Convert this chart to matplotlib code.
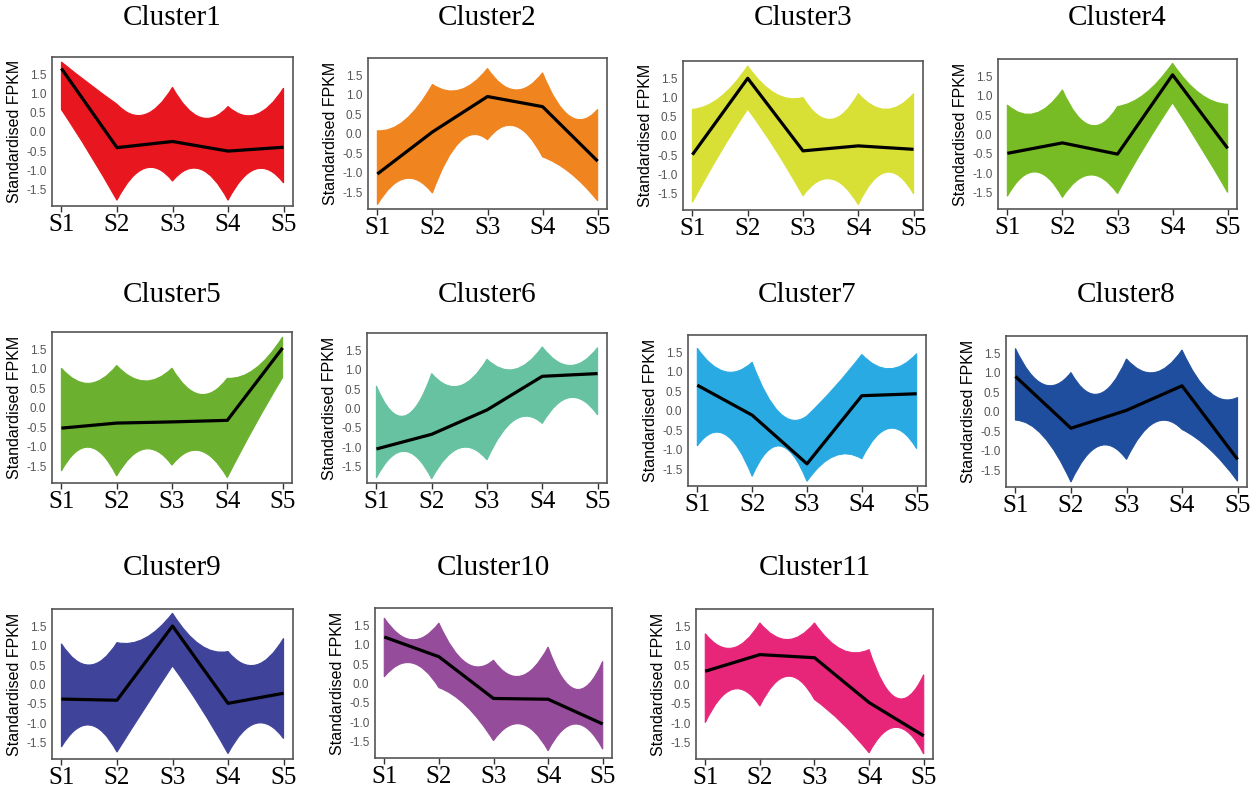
import matplotlib
matplotlib.use('Agg')
import matplotlib.pyplot as plt
import numpy as np
from matplotlib.path import Path
from matplotlib.patches import PathPatch

# cluster names and colours
names = ['Cluster1', 'Cluster2', 'Cluster3', 'Cluster4', 'Cluster5', 'Cluster6',
         'Cluster7', 'Cluster8', 'Cluster9', 'Cluster10', 'Cluster11']
colors = ['#e8161e', '#f0841f', '#d8df35', '#77bc24', '#6bb12f', '#66c2a0',
          '#2aaae2', '#1f4e9e', '#3f449a', '#954c9a', '#e7267a']
stages = ['S1', 'S2', 'S3', 'S4', 'S5']

# mean profile of each cluster at S1..S5
mean1 = [1.65, -0.41, -0.25, -0.50, -0.40]
mean2 = [-1.03, 0.05, 0.96, 0.70, -0.70]
mean3 = [-0.49, 1.50, -0.39, -0.26, -0.35]
mean4 = [-0.49, -0.22, -0.51, 1.54, -0.36]
mean5 = [-0.52, -0.39, -0.36, -0.32, 1.54]
mean6 = [-1.05, -0.67, -0.04, 0.83, 0.90]
mean7 = [0.66, -0.11, -1.36, 0.39, 0.44]
mean8 = [0.91, -0.42, 0.04, 0.67, -1.22]
mean9 = [-0.38, -0.41, 1.51, -0.49, -0.23]
mean10 = [1.20, 0.69, -0.39, -0.41, -1.05]
mean11 = [0.34, 0.77, 0.69, -0.47, -1.33]

# upper / lower envelope of the member genes, read at S1, mid, S2, mid, ... S5
upper1 = [1.82, 1.25, 0.72, 0.45, 1.16, 0.38, 0.66, 0.45, 1.14]
lower1 = [0.58, -0.55, -1.78, -0.95, -1.28, -0.97, -1.78, -0.97, -1.33]
upper2 = [0.08, 0.35, 1.27, 1.13, 1.68, 1.13, 1.57, 0.45, 0.63]
lower2 = [-1.82, -1.15, -1.52, -0.20, -0.15, 0.20, -0.59, -1.00, -1.72]
upper3 = [0.69, 1.00, 1.82, 1.10, 1.00, 0.43, 1.10, 0.69, 1.10]
lower3 = [-1.73, -0.45, 0.70, -0.35, -1.56, -1.12, -1.79, -0.95, -1.51]
upper4 = [0.76, 0.54, 1.15, 0.24, 0.72, 1.05, 1.84, 1.05, 0.78]
lower4 = [-1.60, -0.97, -1.63, -1.05, -1.53, -0.30, 0.82, -0.30, -1.50]
upper5 = [1.02, 0.63, 1.09, 0.69, 1.02, 0.35, 0.76, 1.00, 1.82]
lower5 = [-1.62, -1.01, -1.75, -1.06, -1.47, -1.10, -1.79, -0.45, 0.78]
upper6 = [0.58, -0.20, 0.90, 0.58, 1.27, 1.01, 1.59, 1.11, 1.57]
lower6 = [-1.80, -1.11, -1.82, -1.03, -1.33, -0.30, -0.39, 0.28, -0.17]
upper7 = [1.61, 1.01, 1.25, -0.05, -0.13, 0.60, 1.45, 1.08, 1.47]
lower7 = [-0.90, -0.60, -1.68, -0.90, -1.81, -1.16, -1.23, -0.45, -0.97]
upper8 = [1.63, 0.71, 1.01, 0.46, 1.36, 1.01, 1.59, 0.50, 0.37]
lower8 = [-0.21, -0.62, -1.80, -0.88, -1.22, -0.28, -0.45, -0.96, -1.78]
upper9 = [1.05, 0.50, 1.08, 1.19, 1.84, 1.02, 0.85, 0.50, 1.19]
lower9 = [-1.62, -1.05, -1.75, -0.62, 0.48, -0.58, -1.79, -1.01, -1.40]
upper10 = [1.69, 1.13, 1.56, 0.53, 0.60, 0.19, 0.94, -0.15, 0.57]
lower10 = [0.17, 0.53, -0.11, -0.58, -1.48, -1.05, -1.74, -1.05, -1.70]
upper11 = [1.31, 0.94, 1.59, 1.16, 1.59, 0.90, 0.90, -0.35, 0.25]
lower11 = [-0.99, -0.13, -0.56, 0.21, -0.39, -0.99, -1.77, -1.11, -1.80]

means = [mean1, mean2, mean3, mean4, mean5, mean6, mean7, mean8, mean9, mean10, mean11]
uppers = [upper1, upper2, upper3, upper4, upper5, upper6, upper7, upper8, upper9, upper10, upper11]
lowers = [lower1, lower2, lower3, lower4, lower5, lower6, lower7, lower8, lower9, lower10, lower11]

# axes boxes in pixels: left, right, top, bottom
W, H = 1258, 793
boxes = [(52, 293, 57, 206), (368, 607, 58, 209), (683, 923, 61, 210), (998, 1237, 59, 209),
         (52, 292, 332, 483), (367, 607, 333, 483), (688, 926, 335, 486), (1006, 1247, 336, 487),
         (52, 293, 609, 759), (375, 612, 608, 758), (696, 933, 609, 759)]
title_y = [18, 18, 18, 18, 295, 295, 295, 295, 568, 568, 568]


def band(up, lo):
    # envelope arcs between the stages, cusps at the stages
    xs = np.arange(9) * 0.5
    verts = [(xs[0], up[0])]
    codes = [Path.MOVETO]
    for i in range(4):
        a, m, b = up[2 * i], up[2 * i + 1], up[2 * i + 2]
        verts += [(xs[2 * i + 1], 2 * m - (a + b) / 2), (xs[2 * i + 2], b)]
        codes += [Path.CURVE3, Path.CURVE3]
    verts.append((xs[8], lo[8]))
    codes.append(Path.LINETO)
    for i in reversed(range(4)):
        a, m, b = lo[2 * i + 2], lo[2 * i + 1], lo[2 * i]
        verts += [(xs[2 * i + 1], 2 * m - (a + b) / 2), (xs[2 * i], b)]
        codes += [Path.CURVE3, Path.CURVE3]
    verts.append((xs[0], up[0]))
    codes.append(Path.CLOSEPOLY)
    return Path(verts, codes)


fig = plt.figure(figsize=(W / 100, H / 100), dpi=100)
serif = 'Liberation Serif'
sans = 'Liberation Sans'

for k in range(len(names)):
    l, r, t, b = boxes[k]
    ax = fig.add_axes([l / W, 1 - b / H, (r - l) / W, (b - t) / H])
    ax.add_patch(PathPatch(band(uppers[k], lowers[k]), facecolor=colors[k],
                           edgecolor=colors[k], linewidth=0.8))
    ax.plot(range(5), means[k], color='black', linewidth=2.3, solid_capstyle='butt')
    ax.set_xlim(-0.17, 4.17)
    ax.set_ylim(-1.93, 1.95)
    ax.set_xticks(range(5))
    ax.set_xticklabels(stages, fontfamily=serif, fontsize=18)
    ax.set_yticks([-1.5, -1.0, -0.5, 0.0, 0.5, 1.0, 1.5])
    ax.set_yticklabels(['-1.5', '-1.0', '-0.5', '0.0', '0.5', '1.0', '1.5'],
                       fontfamily=sans, fontsize=8.5, color='#555555')
    ax.tick_params(axis='x', direction='out', length=4, width=1, color='#333333', pad=2)
    ax.tick_params(axis='y', length=0, pad=4)
    ax.set_ylabel('Standardised FPKM', fontfamily=sans, fontsize=11.5, labelpad=3)
    fig.text((l + r) / 2 / W, 1 - title_y[k] / H, names[k], fontfamily=serif,
             fontsize=21, ha='center', va='center')
    for s in ax.spines.values():
        s.set_color('#555555')
        s.set_linewidth(1.2)

fig.savefig('out.png', dpi=100)
